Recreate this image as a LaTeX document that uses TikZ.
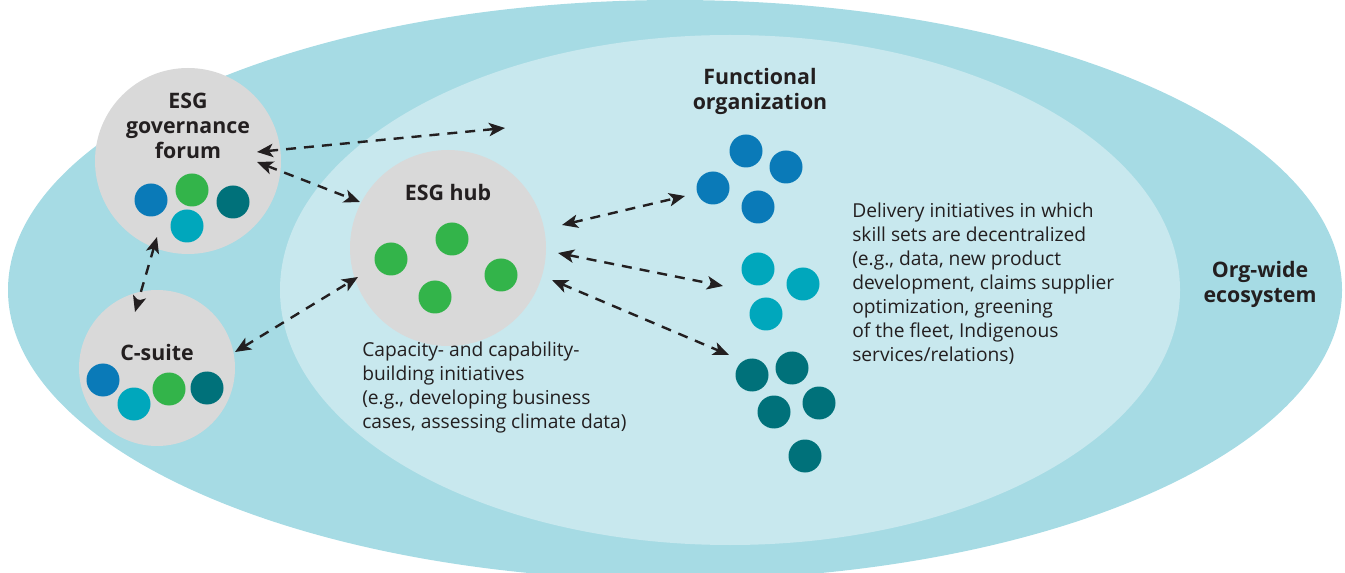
\documentclass[tikz,border=0pt]{standalone}
\usepackage{fontspec}
\setmainfont{Open Sans}
\usetikzlibrary{shapes.geometric,arrows.meta,calc}

\definecolor{ecoblue}{HTML}{A6DBE4}
\definecolor{funcblue}{HTML}{C8E8EE}
\definecolor{hubgray}{HTML}{D9D9D9}
\definecolor{dotblue}{HTML}{0A7AB8}
\definecolor{dotgreen}{HTML}{33B44A}
\definecolor{dotcyan}{HTML}{00A7BC}
\definecolor{dotteal}{HTML}{00717A}
\definecolor{inkdark}{HTML}{231F20}

\tikzset{
  region/.style={ellipse, inner sep=0pt, outer sep=0pt},
  bubble/.style={circle, fill=hubgray, inner sep=0pt, outer sep=0pt},
  dot/.style={circle, minimum size=24.75pt, inner sep=0pt, outer sep=0pt},
  heading/.style={font=\fontsize{16}{18.75}\selectfont\bfseries, text=inkdark, align=center, inner sep=0pt},
  body/.style={font=\fontsize{14.4}{18}\selectfont, text=inkdark, align=left, inner sep=0pt},
  link/.style={draw=inkdark, line width=1.8pt, dash pattern=on 7.5pt off 6pt,
    {Stealth[length=12pt,width=10pt,inset=3pt]}-{Stealth[length=12pt,width=10pt,inset=3pt]}},
}

\begin{document}
\begin{tikzpicture}[x=0.75pt,y=-0.75pt]
  \clip (0,0) rectangle (1345,573);

  % nested ecosystem regions
  \node[region, fill=ecoblue, minimum width=1000.5pt, minimum height=435pt] (eco) at (675,290) {};
  \node[region, fill=funcblue, minimum width=675pt, minimum height=382.5pt] (func) at (730,290) {};

  % leadership bubbles
  \node[bubble, minimum size=139.5pt] (forum) at (188,161) {};
  \node[bubble, minimum size=117pt] (csuite) at (157,368) {};
  \node[bubble, minimum size=147pt] (hub) at (448,248) {};

  % labels
  \node[heading] (forumlbl) at (188,126) {ESG\\governance\\forum};
  \node[heading] (csuitelbl) at (157,353) {C-suite};
  \node[heading] (hublbl) at (448,193) {ESG hub};
  \node[heading] (funclbl) at (760,91) {Functional\\organization};
  \node[heading] (ecolbl) at (1260,284) {Org-wide\\ecosystem};

  \node[body, anchor=north west] (captext) at (362,342)
    {Capacity- and capability-\\building initiatives\\(e.g., developing business\\cases, assessing climate data)};
  \node[body, anchor=north west] (delivtext) at (852,203)
    {Delivery initiatives in which\\skill sets are decentralized\\(e.g., data, new product\\development, claims supplier\\optimization, greening\\of the fleet, Indigenous\\services/relations)};

  % forum members
  \node[dot, fill=dotblue]  (fa) at (151,200) {};
  \node[dot, fill=dotgreen] (fb) at (192,190) {};
  \node[dot, fill=dotteal]  (fc) at (233,202) {};
  \node[dot, fill=dotcyan]  (fd) at (187,226) {};

  % C-suite members
  \node[dot, fill=dotblue]  (ca) at (103,380) {};
  \node[dot, fill=dotcyan]  (cb) at (134,404) {};
  \node[dot, fill=dotgreen] (cc) at (169,389) {};
  \node[dot, fill=dotteal]  (cd) at (207,388) {};

  % hub members
  \node[dot, fill=dotgreen] (ha) at (391,259) {};
  \node[dot, fill=dotgreen] (hb) at (452,239) {};
  \node[dot, fill=dotgreen] (hc) at (435,297) {};
  \node[dot, fill=dotgreen] (hd) at (501,275) {};

  % functional teams
  \node[dot, fill=dotblue] (ba) at (746,151) {};
  \node[dot, fill=dotblue] (bb) at (786,167) {};
  \node[dot, fill=dotblue] (bc) at (713,188) {};
  \node[dot, fill=dotblue] (bd) at (758,207) {};

  \node[dot, fill=dotcyan] (ya) at (758,269) {};
  \node[dot, fill=dotcyan] (yb) at (803,284) {};
  \node[dot, fill=dotcyan] (yc) at (766,314) {};

  \node[dot, fill=dotteal] (ta) at (752,375) {};
  \node[dot, fill=dotteal] (tb) at (792,368) {};
  \node[dot, fill=dotteal] (tc) at (774,412) {};
  \node[dot, fill=dotteal] (td) at (819,403) {};
  \node[dot, fill=dotteal] (te) at (805,456) {};

  % connector end points
  \coordinate (forumE1) at ($(forum)+(69,-9)$);
  \coordinate (forumE2) at ($(forum)+(69,1)$);
  \coordinate (forumS)  at ($(forum)+(-31,76)$);
  \coordinate (outward) at (505,128);
  \coordinate (hubNW)   at ($(hub)+(-88,-46)$);
  \coordinate (hubSW)   at ($(hub)+(-90,29)$);
  \coordinate (hubE1)   at ($(hub)+(114,-23)$);
  \coordinate (hubE2)   at ($(hub)+(110,5)$);
  \coordinate (hubE3)   at ($(hub)+(104,32)$);
  \coordinate (csuiteN) at ($(csuite)+(-22,-56)$);
  \coordinate (csuiteE) at ($(csuite)+(78,-16)$);
  \coordinate (blueW)   at ($(bc)+(-28,8)$);
  \coordinate (cyanW)   at ($(ya)+(-35,17)$);
  \coordinate (tealW)   at ($(ta)+(-23,-20)$);

  % connectors
  \draw[link] (forumE1) -- (outward);
  \draw[link] (forumE2) -- (hubNW);
  \draw[link] (forumS) -- (csuiteN);
  \draw[link] (csuiteE) -- (hubSW);
  \draw[link] (hubE1) -- (blueW);
  \draw[link] (hubE2) -- (cyanW);
  \draw[link] (hubE3) -- (tealW);
\end{tikzpicture}
\end{document}
